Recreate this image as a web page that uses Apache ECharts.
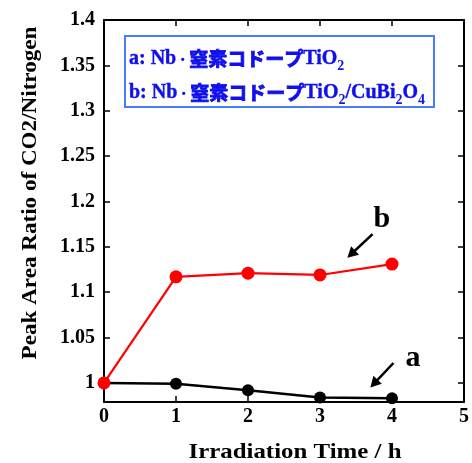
<!DOCTYPE html>
<html><head><meta charset="utf-8">
<script src="https://cdn.jsdelivr.net/npm/echarts@6/dist/echarts.min.js"></script>
<style>html,body{margin:0;padding:0;background:#fff}#c{width:472px;height:463px}</style>
</head><body><div id="c"></div>
<script>
const times = [0, 1, 2, 3, 4];
const seriesA = [1.0, 0.999, 0.992, 0.984, 0.983];
const seriesB = [1.0, 1.117, 1.121, 1.119, 1.131];
const yTicks = [1, 1.05, 1.1, 1.15, 1.2, 1.25, 1.3, 1.35, 1.4];
const xTicks = [0, 1, 2, 3, 4, 5];

const serif = '"Liberation Serif", "Times New Roman", serif';
const chart = echarts.init(document.getElementById('c'));

const tickStyle = {show: true, inside: true, length: 6, lineStyle: {color: '#000', width: 1.5}};
const axisLineStyle = {show: true, onZero: false, lineStyle: {color: '#000', width: 2}};
const blue = '#1010ee';

const option = {
  animation: false,
  backgroundColor: '#fff',
  grid: {left: 104, top: 20, width: 363, height: 382, containLabel: false},
  xAxis: [{
    type: 'value', min: 0, max: 5, interval: 1, position: 'bottom',
    axisLine: axisLineStyle, axisTick: tickStyle, splitLine: {show: false},
    axisLabel: {color: '#000', fontFamily: serif, fontWeight: 'bold', fontSize: 20, margin: 5}
  }, {
    type: 'value', min: 0, max: 5, interval: 1, position: 'top',
    axisLine: axisLineStyle, axisTick: tickStyle, splitLine: {show: false},
    axisLabel: {show: false}
  }],
  yAxis: [{
    type: 'value', min: 0.979, max: 1.4, position: 'left',
    axisLine: axisLineStyle,
    axisTick: Object.assign({}, tickStyle, {customValues: yTicks}),
    splitLine: {show: false},
    axisLabel: {customValues: yTicks, color: '#000', fontFamily: serif, fontWeight: 'bold', fontSize: 20, margin: 9}
  }, {
    type: 'value', min: 0.979, max: 1.4, position: 'right',
    axisLine: axisLineStyle,
    axisTick: Object.assign({}, tickStyle, {customValues: yTicks}),
    splitLine: {show: false},
    axisLabel: {show: false, customValues: yTicks}
  }],
  series: [{
    name: 'a', type: 'line', data: times.map((t, i) => [t, seriesA[i]]),
    symbol: 'circle', symbolSize: 12, z: 2,
    lineStyle: {color: '#000', width: 2.5}, itemStyle: {color: '#000'}
  }, {
    name: 'b', type: 'line', data: times.map((t, i) => [t, seriesB[i]]),
    symbol: 'circle', symbolSize: 13, z: 3,
    lineStyle: {color: '#ff0000', width: 2.2}, itemStyle: {color: '#ff0000'}
  }],
  graphic: [{
    type: 'text', x: 295, y: 452, scaleX: 1.13,
    style: {text: 'Irradiation Time / h', font: 'bold 22px ' + serif, fill: '#000', textAlign: 'center', textVerticalAlign: 'middle'}
  }, {
    type: 'text', x: 31, y: 193, rotation: Math.PI / 2, scaleX: 1.1,
    style: {text: 'Peak Area Ratio of CO2/Nitrogen', font: 'bold 21px ' + serif, fill: '#000', textAlign: 'center', textVerticalAlign: 'middle'}
  }, {
    type: 'rect', shape: {x: 125, y: 36, width: 309, height: 71},
    style: {fill: '#fff', stroke: '#4a7cff', lineWidth: 2}, z: 10
  }, {
    type: 'text', x: 129, y: 42, z: 11,
    style: {
      text: '{n|a: Nb}{d|・}{j|窒素コドープ}{n|TiO}{s|2}\n{n|b: Nb}{d|・}{j|窒素コドープ}{n|TiO}{s|2}{n|/CuBi}{s|2}{n|O}{s|4}',
      rich: {
        n: {font: 'bold 20px ' + serif, fill: blue, stroke: blue, lineWidth: 0.4, lineHeight: 34, verticalAlign: 'middle'},
        d: {font: 'bold 13px "Noto Sans CJK JP"', fill: blue, lineHeight: 34, verticalAlign: 'middle'},
        j: {font: 'bold 19px "Noto Sans CJK JP"', fill: blue, stroke: blue, lineWidth: 0.9, lineHeight: 34, verticalAlign: 'middle'},
        s: {font: 'bold 14px ' + serif, fill: blue, lineHeight: 14, verticalAlign: 'bottom', padding: [0, 0, 3, 0]}
      }
    }
  }]
};
chart.setOption(option);

// annotations positioned from data coordinates
function px(x, y) { return chart.convertToPixel({xAxisIndex: 0, yAxisIndex: 0}, [x, y]); }
const labB = px(3.86, 1.18), labA = px(4.29, 1.027);
const arrB0 = px(3.73, 1.164), arrB1 = px(3.38, 1.138);
const arrA0 = px(4.02, 1.022), arrA1 = px(3.70, 0.995);
function arrow(p0, p1) {
  const ang = Math.atan2(p1[1] - p0[1], p1[0] - p0[0]);
  const L = 12, W = 0.5;
  const h1 = [p1[0] - L * Math.cos(ang - W), p1[1] - L * Math.sin(ang - W)];
  const h2 = [p1[0] - L * Math.cos(ang + W), p1[1] - L * Math.sin(ang + W)];
  const bx = p1[0] - 8 * Math.cos(ang), by = p1[1] - 8 * Math.sin(ang);
  return [{
    type: 'line', shape: {x1: p0[0], y1: p0[1], x2: bx, y2: by},
    style: {stroke: '#000', lineWidth: 2.5}, z: 20
  }, {
    type: 'polygon', shape: {points: [p1, h1, h2]}, style: {fill: '#000'}, z: 20
  }];
}
const extra = [{
  type: 'text', x: labB[0], y: labB[1], z: 20,
  style: {text: 'b', font: 'bold 30px ' + serif, fill: '#000', textAlign: 'center', textVerticalAlign: 'middle'}
}, {
  type: 'text', x: labA[0], y: labA[1], z: 20,
  style: {text: 'a', font: 'bold 30px ' + serif, fill: '#000', textAlign: 'center', textVerticalAlign: 'middle'}
}].concat(arrow(arrB0, arrB1), arrow(arrA0, arrA1));
chart.setOption({graphic: option.graphic.concat(extra)}, {replaceMerge: ['graphic']});
</script>
</body></html>
